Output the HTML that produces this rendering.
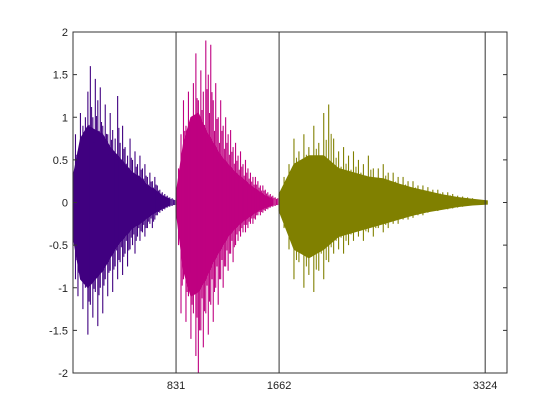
<!DOCTYPE html>
<html><head><meta charset="utf-8"><style>
body{margin:0;background:#fff;width:560px;height:420px;overflow:hidden}
svg{display:block;font-family:"Liberation Sans",sans-serif;font-size:11px}
</style></head><body>
<svg id="chart" width="560" height="420"></svg>
<script>
const seg1Max=[0.35,0.8,0.6,1.05,0.9,1.0,1.3,1.6,1.0,1.45,1.2,1.35,0.9,1.15,0.8,1.05,0.85,0.75,1.25,0.7,0.9,0.65,0.55,0.75,0.5,0.6,0.45,0.55,0.4,0.45,0.3,0.35,0.25,0.3,0.2,0.15,0.12,0.1,0.08,0.06,0.05,0.03];
const seg1Min=[-0.5,-0.9,-1.1,-0.8,-1.25,-1.0,-1.55,-1.2,-1.35,-1.05,-1.45,-1.0,-1.3,-0.9,-1.1,-0.8,-1.05,-0.75,-0.9,-0.7,-0.85,-0.6,-0.75,-0.55,-0.5,-0.6,-0.4,-0.45,-0.35,-0.4,-0.3,-0.25,-0.3,-0.2,-0.15,-0.12,-0.1,-0.08,-0.06,-0.05,-0.04,-0.03];
const seg2Max=[0.05,0.4,0.8,1.2,0.9,1.3,1.0,1.4,1.75,1.2,1.55,1.3,1.9,1.5,1.85,1.2,1.4,1.0,1.2,0.9,1.0,0.8,0.85,0.65,0.7,0.55,0.6,0.45,0.5,0.4,0.35,0.3,0.3,0.25,0.2,0.2,0.15,0.12,0.1,0.08,0.06,0.05];
const seg2Min=[-0.05,-0.5,-1.3,-0.9,-1.4,-1.1,-1.6,-1.3,-1.8,-2.0,-1.5,-1.7,-1.3,-1.55,-1.2,-1.4,-1.0,-1.2,-0.9,-1.0,-0.75,-0.8,-0.6,-0.7,-0.5,-0.45,-0.4,-0.35,-0.35,-0.3,-0.25,-0.25,-0.2,-0.15,-0.15,-0.12,-0.1,-0.08,-0.06,-0.05,-0.04,-0.03];
const seg3Max=[0.1,0.3,0.45,0.75,0.6,0.8,0.65,0.9,0.7,1.05,1.15,0.75,0.6,0.65,0.55,0.6,0.5,0.45,0.55,0.4,0.4,0.45,0.35,0.35,0.3,0.3,0.25,0.25,0.2,0.2,0.18,0.15,0.15,0.12,0.12,0.1,0.08,0.07,0.06,0.05,0.03,0.02];
const seg3Min=[-0.1,-0.3,-0.55,-0.9,-0.7,-1.0,-0.85,-1.05,-0.8,-0.9,-0.7,-0.6,-0.55,-0.6,-0.5,-0.45,-0.4,-0.45,-0.35,-0.4,-0.3,-0.35,-0.3,-0.25,-0.25,-0.2,-0.2,-0.18,-0.15,-0.15,-0.12,-0.1,-0.1,-0.08,-0.08,-0.07,-0.06,-0.05,-0.04,-0.03,-0.02,-0.02];
const core1Max=[0.3,0.75,0.9,0.85,0.8,0.65,0.55,0.45,0.35,0.3,0.2,0.15,0.08,0.04];
const core1Min=[-0.4,-0.9,-1.0,-0.9,-0.8,-0.65,-0.5,-0.4,-0.3,-0.25,-0.18,-0.12,-0.07,-0.03];
const core2Max=[0.1,0.7,1.0,1.05,0.85,0.7,0.55,0.45,0.35,0.28,0.2,0.14,0.08,0.04];
const core2Min=[-0.1,-0.8,-1.1,-1.05,-0.9,-0.7,-0.55,-0.4,-0.3,-0.22,-0.16,-0.1,-0.06,-0.03];
const core3Max=[0.1,0.45,0.55,0.55,0.4,0.35,0.3,0.28,0.22,0.17,0.13,0.09,0.06,0.04,0.02];
const core3Min=[-0.1,-0.55,-0.65,-0.55,-0.4,-0.35,-0.3,-0.25,-0.2,-0.15,-0.11,-0.08,-0.05,-0.03,-0.02];
const segStarts=[0,831,1662];
const segSteps=[20,20,40];
const coreSteps=[60,60,120];
const segColors=["#400080","#bf0080","#808000"];
const xTicks=[831,1662,3324];
const yTicks=[-2,-1.5,-1,-0.5,0,0.5,1,1.5,2];
const xDomain=[0,3500], yDomain=[-2,2];
const L=73,R=507,T=32,B=373;
const sx=v=>L+(v-xDomain[0])/(xDomain[1]-xDomain[0])*(R-L);
const sy=v=>B-(v-yDomain[0])/(yDomain[1]-yDomain[0])*(B-T);
const svg=document.getElementById('chart');
const NS="http://www.w3.org/2000/svg";
function mk(t,a){const e=document.createElementNS(NS,t);for(const k in a)e.setAttribute(k,a[k]);svg.appendChild(e);return e;}
const maxs=[seg1Max,seg2Max,seg3Max], mins=[seg1Min,seg2Min,seg3Min];
const cmaxs=[core1Max,core2Max,core3Max], cmins=[core1Min,core2Min,core3Min];
for(let s=0;s<3;s++){
  let top=[],bot=[];
  cmaxs[s].forEach((v,i)=>top.push(sx(segStarts[s]+i*coreSteps[s]).toFixed(2)+","+sy(v).toFixed(2)));
  cmins[s].forEach((v,i)=>bot.unshift(sx(segStarts[s]+i*coreSteps[s]).toFixed(2)+","+sy(v).toFixed(2)));
  const p=mk('polygon',{points:top.concat(bot).join(' '),fill:segColors[s],stroke:segColors[s],'stroke-width':0.8});
  
  
  maxs[s].forEach((v,i)=>{
    const x=sx(segStarts[s]+i*segSteps[s]);
    const ln=mk('line',{x1:x,x2:x,y1:sy(v),y2:sy(mins[s][i]),stroke:segColors[s],'stroke-width':1.1});
    
    
    const x2=x+segSteps[s]*0.5*(R-L)/(xDomain[1]-xDomain[0]);
    const ln2=mk('line',{x1:x2,x2:x2,y1:sy(v*0.7),y2:sy(mins[s][i]*0.75),stroke:segColors[s],'stroke-width':1});
    
    
  });
}
xTicks.forEach(v=>{
  const l=mk('line',{x1:sx(v),x2:sx(v),y1:T,y2:B,stroke:'#333','stroke-width':1});
  
  
  const t=mk('text',{x:sx(v),y:B+16,'text-anchor':'middle',fill:'#222'});
  t.textContent=v;
  
  
});
yTicks.forEach(v=>{
  const y=sy(v);
  mk('line',{x1:L,x2:L+4,y1:y,y2:y,stroke:'#333'});
  mk('line',{x1:R-4,x2:R,y1:y,y2:y,stroke:'#333'});
  const t=mk('text',{x:L-5,y:y+4,'text-anchor':'end',fill:'#222'});
  t.textContent=v;
  
  
});
const box=mk('rect',{x:L,y:T,width:R-L,height:B-T,fill:'none',stroke:'#333','stroke-width':1});


</script>
</body></html>
